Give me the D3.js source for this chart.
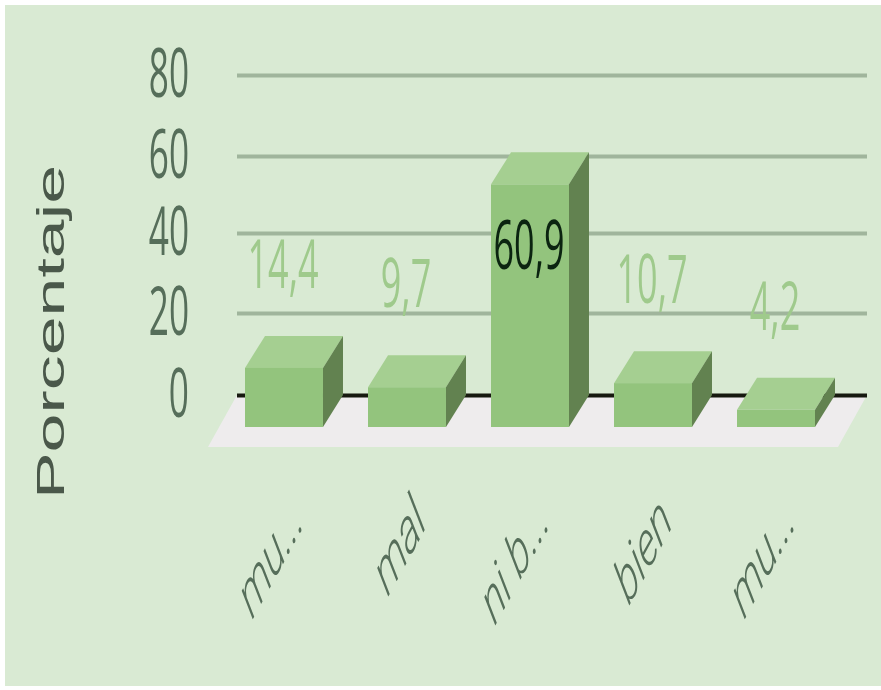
<!DOCTYPE html>
<html>
<head>
<meta charset="utf-8">
<script src="https://cdnjs.cloudflare.com/ajax/libs/d3/7.8.5/d3.min.js"></script>
<style>
  html, body { margin: 0; padding: 0; background: #fff; overflow: hidden; }
  svg { display: block; filter: blur(0.7px); }
</style>
</head>
<body>
<div id="chart"></div>
<script>
// values
var categories = ["mu...", "mal", "ni b...", "bien", "mu..."];
var values = [14.4, 9.7, 60.9, 10.7, 4.2];
var valueLabels = ["14,4", "9,7", "60,9", "10,7", "4,2"];
var yTicks = [0, 20, 40, 60, 80];

var width = 881, height = 690;
var depth = {x: 20, y: 32};   // 3d offset between back and front of a bar

var svg = d3.select("#chart")
  .append("svg")
    .attr("width", width)
    .attr("height", height);

svg.append("rect")
    .attr("x", 5).attr("y", 5)
    .attr("width", width - 5).attr("height", height - 9)
    .style("fill", "#d9ead3");

// the gridlines in the picture are not quite evenly spaced
var y = d3.scaleLinear()
    .domain(yTicks)
    .range([395, 313, 233, 156, 75]);

var x = d3.scaleBand()
    .domain(d3.range(categories.length))
    .range([245, 815])
    .paddingInner(0.366)
    .paddingOuter(0);

// floor
var left = 237, right = 867;
var floorDrop = 52, floorSlant = 29;
svg.append("polygon")
    .attr("points", [
      [left, y(0)], [right, y(0)],
      [right - floorSlant, y(0) + floorDrop], [left - floorSlant, y(0) + floorDrop]
    ].join(" "))
    .style("fill", "#eeeced");

// y axis with gridlines
var axis = svg.append("g")
    .attr("transform", "translate(" + left + ",0)")
    .call(d3.axisLeft(y).tickValues(yTicks).tickSize(-(right - left)).tickPadding(0));
axis.select(".domain").remove();
axis.selectAll(".tick line")
    .style("stroke", function(d) { return d == 0 ? "#16190f" : "#a0b59c"; })
    .style("stroke-width", 4);
axis.selectAll(".tick text")
    .attr("x", null).attr("dy", null)
    .attr("transform", "translate(-48,21) scale(0.88,1.68)")
    .style("text-anchor", "end")
    .style("font-family", "'Open Sans'")
    .style("font-size", "40px")
    .style("font-weight", 400)
    .style("fill", "#566e5a");

// bars
var bars = svg.selectAll(".bar")
    .data(values)
    .enter()
    .append("g")
      .attr("class", "bar");

// top face
bars.append("polygon")
    .attr("points", function(d, i) {
      var x0 = x(i), x1 = x0 + x.bandwidth(), t = y(d);
      return [[x0, t + depth.y], [x1, t + depth.y], [x1 + depth.x, t], [x0 + depth.x, t]].join(" ");
    })
    .style("fill", "#a5cf91");

// side face
bars.append("polygon")
    .attr("points", function(d, i) {
      var x1 = x(i) + x.bandwidth(), t = y(d);
      return [[x1, t + depth.y], [x1 + depth.x, t], [x1 + depth.x, y(0)], [x1, y(0) + depth.y]].join(" ");
    })
    .style("fill", "#628250");

// front face
bars.append("rect")
    .attr("x", function(d, i) { return x(i); })
    .attr("y", function(d) { return y(d) + depth.y; })
    .attr("width", x.bandwidth())
    .attr("height", function(d) { return y(0) - y(d); })
    .style("fill", "#93c47d");

// value labels, the tall bar keeps its label inside
svg.selectAll(".value")
    .data(values)
    .enter()
    .append("text")
      .attr("class", "value")
      .attr("transform", function(d, i) {
        var base = d > 50 ? y(d) + 117 : y(d) - 48;
        return "translate(" + (x(i) + x.bandwidth() / 2 - 1) + "," + base + ") scale(0.9,1.68)";
      })
      .style("text-anchor", "middle")
      .style("font-family", "'Open Sans'")
      .style("font-size", "40px")
      .style("fill", function(d) { return d > 50 ? "#0b2410" : "#9fca8c"; })
      .text(function(d, i) { return valueLabels[i]; });

// category labels
svg.selectAll(".cat")
    .data(categories)
    .enter()
    .append("text")
      .attr("class", "cat")
      .attr("transform", function(d, i) {
        return "translate(" + (x(i) + 60) + ",524) scale(0.85,1.55) rotate(-45)";
      })
      .style("text-anchor", "end")
      .style("font-family", "Roboto")
      .style("font-style", "italic")
      .style("font-weight", 300)
      .style("font-size", "42px")
      .style("fill", "#566e5a")
      .text(function(d) { return d; });

// y title
svg.append("text")
    .attr("transform", "translate(64,332) rotate(-90) scale(1.84,1)")
    .style("text-anchor", "middle")
    .style("font-family", "'Liberation Sans'")
    .style("font-size", "38px")
    .style("fill", "#4a584a")
    .text("Porcentaje");
</script>
</body>
</html>
